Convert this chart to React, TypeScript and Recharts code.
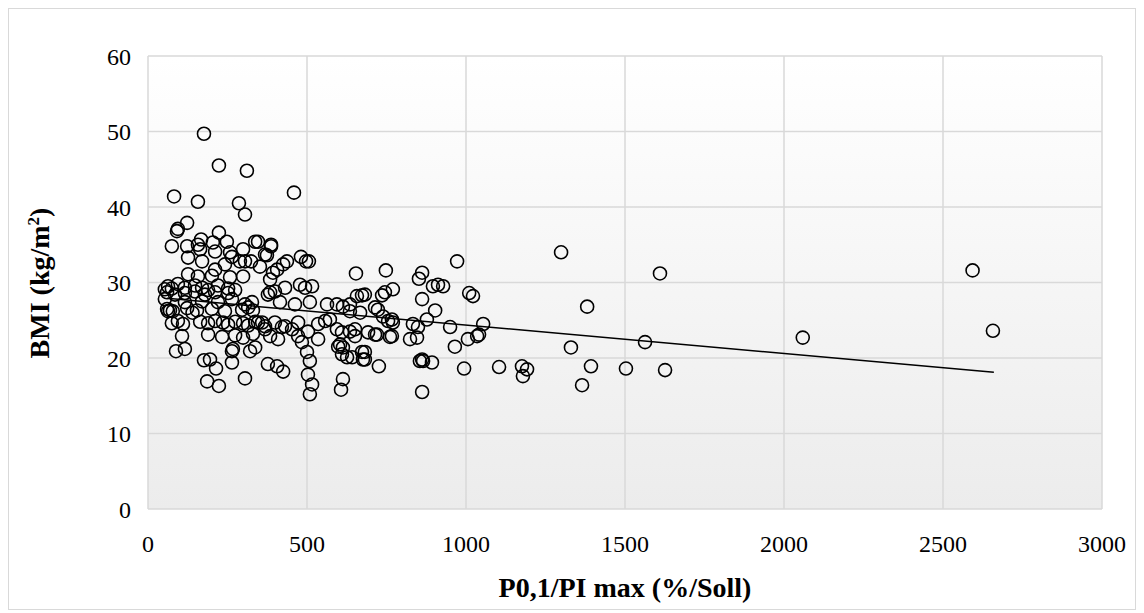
import { CartesianGrid, ReferenceLine, Scatter, ScatterChart, XAxis, YAxis } from "recharts";

// P0,1/PI max (%/Soll) per patient
const p01Values = [
  176, 223, 311, 459, 82, 157, 286, 305, 123, 94, 91, 223, 75, 123, 167, 157, 164, 204, 211, 248,
  258, 264, 299, 337, 126, 170, 211, 242, 289, 305, 324, 352, 374, 387, 387, 393, 406, 437, 481, 497,
  506, 126, 157, 201, 258, 299, 63, 75, 94, 116, 148, 170, 189, 220, 252, 274, 654, 748, 862, 852,
  972, 896, 912, 928, 745, 770, 736, 657, 673, 1010, 862, 594, 613, 635, 667, 635, 723, 739, 767, 770,
  903, 833, 849, 877, 950, 1022, 1054, 1035, 1041, 1006, 965, 572, 594, 610, 635, 651, 604, 613, 626, 673,
  676, 692, 720, 767, 824, 846, 726, 862, 893, 855, 994, 1104, 1176, 1192, 1179, 613, 607, 862, 1299, 1610,
  1381, 1330, 1563, 1393, 1365, 1503, 1626, 2059, 2593, 2657, 346, 368, 425, 384, 478, 494, 516, 431, 384, 399,
  682, 714, 755, 714, 761, 682, 865, 377, 406, 425, 500, 509, 503, 516, 509, 377, 415, 462, 509, 563,
  346, 368, 399, 421, 453, 472, 503, 535, 557, 651, 484, 535, 598, 610, 642, 682, 88, 116, 176, 195,
  214, 264, 267, 264, 321, 337, 186, 223, 305, 60, 69, 78, 123, 154, 201, 242, 296, 315, 330, 75,
  94, 110, 164, 189, 211, 236, 252, 274, 299, 315, 337, 107, 189, 233, 274, 299, 330, 60, 85, 116,
  148, 179, 211, 252, 53, 116, 170, 220, 264, 305, 327, 53, 63, 359, 368, 384, 409, 431, 472, 140,
];

// BMI (kg/m²) per patient
const bmiValues = [
  49.7, 45.5, 44.8, 41.9, 41.4, 40.7, 40.5, 39.0, 37.9, 37.1, 36.8, 36.6, 34.8, 34.8, 35.7, 35.0, 34.4, 35.3, 34.1, 35.4,
  34.0, 33.4, 34.4, 35.4, 33.3, 32.8, 31.7, 32.4, 32.8, 32.8, 32.8, 32.1, 33.6, 35.0, 34.8, 31.3, 31.7, 32.8, 33.4, 32.8,
  32.8, 31.1, 30.8, 30.9, 30.7, 30.8, 29.5, 29.2, 29.8, 29.3, 29.6, 29.3, 29.0, 29.6, 29.2, 29.0, 31.2, 31.6, 31.3, 30.5,
  32.8, 29.5, 29.7, 29.5, 28.7, 29.1, 28.3, 28.2, 28.3, 28.6, 27.8, 27.1, 26.8, 27.1, 26.0, 26.2, 26.4, 25.5, 25.1, 24.7,
  26.3, 24.5, 24.1, 25.1, 24.1, 28.2, 24.5, 22.9, 23.1, 22.5, 21.5, 25.1, 23.8, 23.4, 23.5, 22.9, 21.8, 21.4, 20.1, 20.8,
  19.8, 23.4, 23.1, 22.9, 22.5, 22.7, 18.9, 19.8, 19.4, 19.6, 18.6, 18.8, 18.9, 18.5, 17.6, 17.2, 15.8, 15.5, 34.0, 31.2,
  26.8, 21.4, 22.1, 18.9, 16.4, 18.6, 18.4, 22.7, 31.6, 23.6, 35.4, 33.7, 32.4, 30.4, 29.7, 29.3, 29.5, 29.3, 28.7, 28.8,
  28.4, 26.7, 24.9, 23.1, 22.8, 20.8, 19.6, 19.2, 18.9, 18.2, 20.8, 19.6, 17.8, 16.5, 15.2, 28.4, 27.4, 27.1, 27.4, 27.1,
  24.7, 24.2, 24.7, 24.1, 23.8, 22.9, 23.5, 24.5, 24.9, 23.8, 22.1, 22.5, 21.5, 20.5, 20.1, 19.8, 20.9, 21.2, 19.7, 19.8,
  18.6, 20.9, 21.2, 19.4, 20.9, 21.4, 16.9, 16.3, 17.3, 26.5, 26.3, 26.2, 26.6, 26.3, 26.5, 26.2, 26.4, 26.7, 26.3, 24.6,
  24.9, 24.5, 24.8, 24.6, 24.9, 24.7, 24.4, 24.8, 24.6, 24.3, 24.8, 22.9, 23.1, 22.8, 23.0, 22.7, 23.2, 28.7, 28.4, 28.6,
  28.8, 28.4, 28.7, 28.6, 27.8, 27.4, 27.5, 27.4, 27.8, 27.1, 27.4, 29.1, 26.2, 24.7, 23.8, 22.9, 22.5, 24.2, 24.7, 26.0,
];

// linear trend line end points
const trendX = [60, 2660];
const trendY = [27.9, 18.1];

const xTicks = [0, 500, 1000, 1500, 2000, 2500, 3000];
const yTicks = [0, 10, 20, 30, 40, 50, 60];

const FONT = '"Liberation Serif", "Times New Roman", serif';

const points = p01Values.map((x, i) => ({ x, y: bmiValues[i] }));

const ring = (props: any) => (
  <circle cx={props.cx} cy={props.cy} r={6.5} fill="none" stroke="#000" strokeWidth={1.6} />
);

export default function App() {
  return (
    <div
      style={{
        position: "relative",
        width: 1126,
        height: 600,
        border: "1px solid #d9d9d9",
        fontFamily: FONT,
      }}
    >
      <ScatterChart width={1126} height={600} margin={{ top: 47, right: 33, left: 0, bottom: 0 }}>
        <defs>
          <linearGradient id="plotBg" x1="0" y1="0" x2="0" y2="1">
            <stop offset="0%" stopColor="#ffffff" />
            <stop offset="100%" stopColor="#ececec" />
          </linearGradient>
        </defs>
        <CartesianGrid stroke="#d9d9d9" strokeWidth={1.5} fill="url(#plotBg)" />
        <XAxis
          dataKey="x"
          type="number"
          domain={[0, 3000]}
          ticks={xTicks}
          axisLine={false}
          tickLine={false}
          tickSize={6}
          tickMargin={20}
          height={100}
          tick={{ fill: "#000", fontSize: 24, fontFamily: FONT }}
        />
        <YAxis
          dataKey="y"
          type="number"
          domain={[0, 60]}
          ticks={yTicks}
          axisLine={false}
          tickLine={false}
          tickSize={6}
          tickMargin={11}
          width={139}
          tick={{ fill: "#000", fontSize: 24, fontFamily: FONT }}
        />
        <Scatter data={points} shape={ring} isAnimationActive={false} />
        <ReferenceLine
          segment={[
            { x: trendX[0], y: trendY[0] },
            { x: trendX[1], y: trendY[1] },
          ]}
          stroke="#000"
          strokeWidth={1.5}
        />
      </ScatterChart>
      <div
        style={{
          position: "absolute",
          left: 139,
          width: 954,
          top: 563,
          textAlign: "center",
          fontWeight: "bold",
          fontSize: 28,
          lineHeight: "32px",
          whiteSpace: "nowrap",
        }}
      >
        P0,1/PI max (%/Soll)
      </div>
      <div
        style={{
          position: "absolute",
          left: 31,
          top: 274,
          width: 0,
          height: 0,
        }}
      >
        <div
          style={{
            position: "absolute",
            transform: "translate(-50%, -50%) rotate(-90deg)",
            whiteSpace: "nowrap",
            fontWeight: "bold",
            fontSize: 28,
            lineHeight: "32px",
          }}
        >
          BMI (kg/m<sup style={{ fontSize: 17, lineHeight: 0 }}>2</sup>)
        </div>
      </div>
    </div>
  );
}
